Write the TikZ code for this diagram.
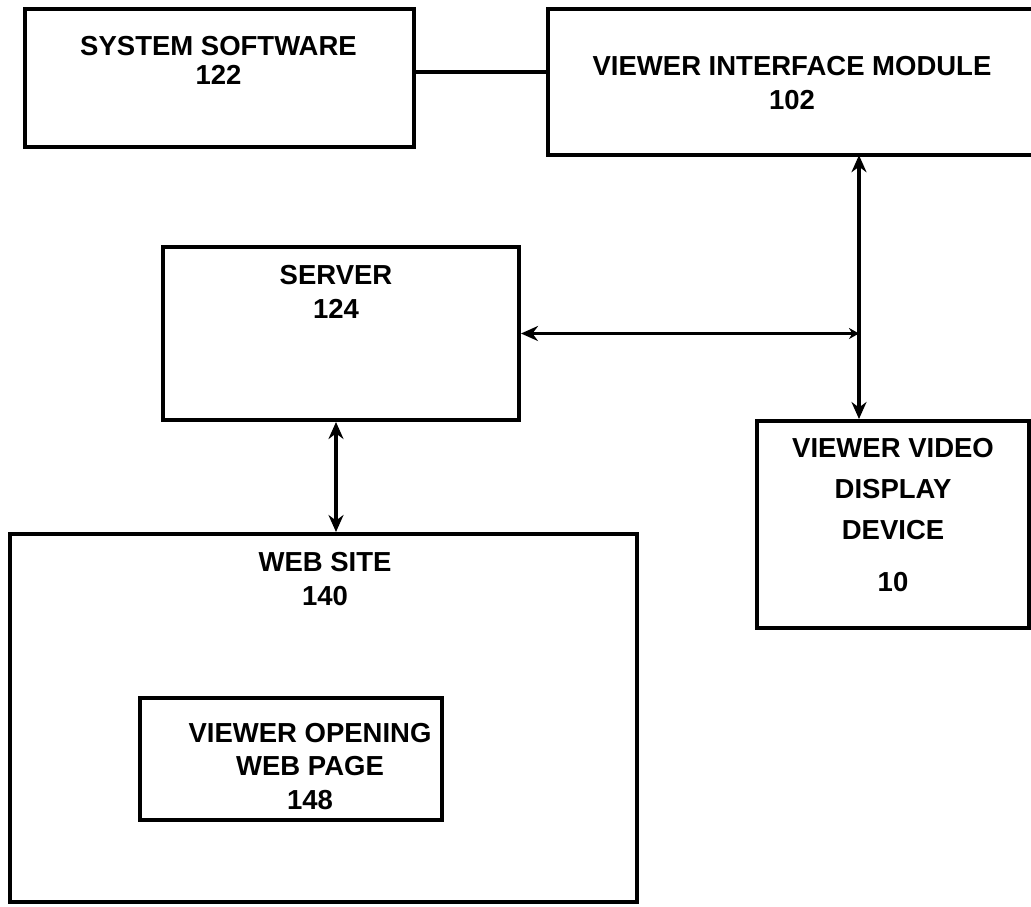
\documentclass[tikz,border=0pt]{standalone}
\usepackage{fontspec}
\setmainfont{Liberation Sans}
\usetikzlibrary{arrows.meta}
\begin{document}
\begin{tikzpicture}[x=1pt,y=-1pt,
  box/.style={draw,line width=4pt,rectangle,inner sep=0pt},
  openbox/.style={draw=none,rectangle,inner sep=0pt},
  lbl/.style={align=center,font=\bfseries\fontsize{27.5}{34}\selectfont,inner sep=0pt},
  conn/.style={line width=3.5pt},
  biarrow/.style={conn,{Stealth[length=17pt,width=15pt]}-{Stealth[length=17pt,width=15pt]}}]
\useasboundingbox[fill=white] (0,0) rectangle (1031,907);
% boxes
\node[box,minimum width=389pt,minimum height=138pt] (ss) at (219.5,78) {};
\node[openbox,minimum width=483pt,minimum height=146pt] (vim) at (789.5,82) {};
\draw[line width=4pt] (vim.north east) -- (vim.north west) -- (vim.south west) -- (vim.south east);
\node[box,minimum width=356pt,minimum height=173pt] (server) at (341,333.5) {};
\node[box,minimum width=272pt,minimum height=207pt] (vvdd) at (893,524.5) {};
\node[box,minimum width=627pt,minimum height=368pt] (ws) at (323.5,718) {};
\node[box,minimum width=302pt,minimum height=122pt] (vowp) at (291,759) {};
% labels
\node[lbl,font=\bfseries\fontsize{27.5}{29}\selectfont] (tss) at (218.5,60.5) {SYSTEM SOFTWARE\\122};
\node[lbl] (tvim) at (792,83) {VIEWER INTERFACE MODULE\\102};
\node[lbl] (tserver) at (336,292) {SERVER\\124};
\node[lbl,font=\bfseries\fontsize{27.5}{41}\selectfont] (tvvdd) at (893,515.5) {VIEWER VIDEO\\DISPLAY\\DEVICE\\[11pt]10};
\node[lbl] (tws) at (325,579) {WEB SITE\\140};
\node[lbl,font=\bfseries\fontsize{27.5}{33.5}\selectfont] (tvowp) at (310,766.5) {VIEWER OPENING\\WEB PAGE\\148};
% connectors
\coordinate (jx) at (859,333.5);
\draw[conn] ([yshift=6pt]ss.east) -- ([yshift=6pt]ss.east -| vim.west);
\draw[biarrow] (jx |- vim.south) -- (jx |- vvdd.north);
\draw[conn,{Stealth[length=17pt,width=15pt]}-{Stealth[length=10pt,width=11pt]}] (server.east) -- (jx);
\draw[biarrow] ([xshift=-5pt]server.south) -- ([xshift=-5pt]server.south |- ws.north);
\end{tikzpicture}
\end{document}
